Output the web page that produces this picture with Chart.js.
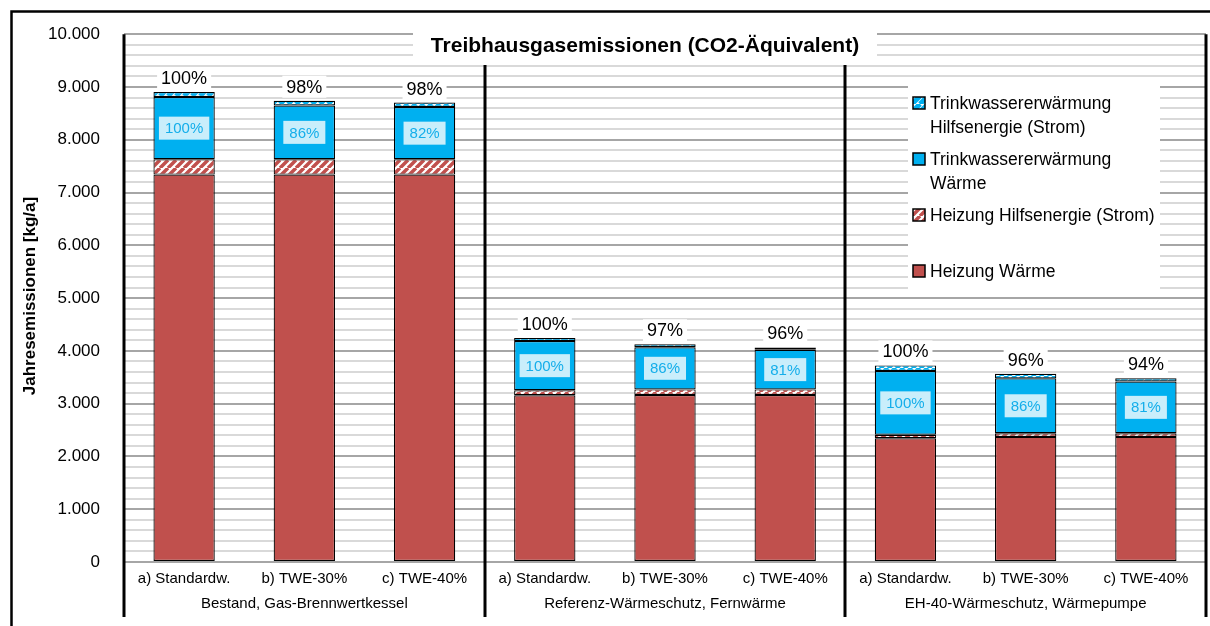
<!DOCTYPE html>
<html><head><meta charset="utf-8">
<script src="https://cdn.jsdelivr.net/npm/chart.js@4.4.0/dist/chart.umd.min.js"></script>
<style>html,body{margin:0;padding:0;background:#fff;overflow:hidden}#wrap{width:1210px;height:626px;position:relative}</style>
</head><body><div id="wrap"><canvas id="c" width="1210" height="626"></canvas></div>
<script>
// ---------- data ----------
const categories = ['a) Standardw.', 'b) TWE-30%', 'c) TWE-40%', 'a) Standardw.', 'b) TWE-30%', 'c) TWE-40%', 'a) Standardw.', 'b) TWE-30%', 'c) TWE-40%'];
const groups = ['Bestand, Gas-Brennwertkessel', 'Referenz-Wärmeschutz, Fernwärme', 'EH-40-Wärmeschutz, Wärmepumpe'];
const seriesNames = ['Heizung Wärme', 'Heizung Hilfsenergie (Strom)', 'Trinkwassererwärmung Wärme', 'Trinkwassererwärmung Hilfsenergie (Strom)'];
const heizungWaerme = [7340, 7340, 7340, 3160, 3165, 3165, 2345, 2370, 2370];
const heizungHilfsenergie = [290, 290, 290, 95, 105, 105, 65, 70, 70];
const tweWaerme = [1180, 1020, 990, 930, 800, 750, 1210, 1040, 980];
const tweHilfsenergie = [95, 90, 85, 60, 55, 45, 105, 85, 60];
const totalPercent = ['100%', '98%', '98%', '100%', '97%', '96%', '100%', '96%', '94%'];
const twePercent = ['100%', '86%', '82%', '100%', '86%', '81%', '100%', '86%', '81%'];
const yMin = 0, yMax = 10000, yMinorStep = 200, yMajorStep = 1000;
const chartTitle = 'Treibhausgasemissionen (CO2-Äquivalent)';
const yAxisTitle = 'Jahresemissionen [kg/a]';

// ---------- styles ----------
const FONT = "'Liberation Sans', Arial, sans-serif";
const RED = '#c0504d', BLUE = '#00b0f0';
const canvas = document.getElementById('c');
const ctx = canvas.getContext('2d');

function stripes(color, bg, lw) {
  const p = document.createElement('canvas');
  p.width = 8; p.height = 8;
  const g = p.getContext('2d');
  g.fillStyle = bg; g.fillRect(0, 0, 8, 8);
  g.strokeStyle = color; g.lineWidth = lw;
  g.beginPath();
  for (let k = -1; k <= 1; k++) { g.moveTo(k * 8, 8); g.lineTo(k * 8 + 8, 0); }
  g.stroke();
  return ctx.createPattern(p, 'repeat');
}
const redHatch = stripes(RED, '#ffffff', 3.5);
const blueHatch = stripes(BLUE, '#ffffff', 5);
const fills = [RED, redHatch, BLUE, blueHatch];
const seriesData = [heizungWaerme, heizungHilfsenergie, tweWaerme, tweHilfsenergie];

function fmt(v) { return String(v).replace(/\B(?=(\d{3})+(?!\d))/g, '.'); }

function wrap(c, text, maxW) {
  const words = text.split(' '); const lines = []; let cur = '';
  for (const w of words) {
    const t = cur ? cur + ' ' + w : w;
    if (c.measureText(t).width > maxW && cur) { lines.push(cur); cur = w; } else cur = t;
  }
  if (cur) lines.push(cur);
  return lines;
}

const decor = {
  id: 'decor',
  afterDatasetsDraw(chart) {
    const c = chart.ctx, a = chart.chartArea, xs = chart.scales.x;
    const catW = (a.right - a.left) / categories.length;
    c.save();
    // inner TWE percentage labels
    const mBlue = chart.getDatasetMeta(2);
    c.font = '15px ' + FONT; c.textAlign = 'center'; c.textBaseline = 'middle';
    mBlue.data.forEach((el, i) => {
      const cy = (el.y + el.base) / 2, t = twePercent[i];
      const w = c.measureText(t).width + 12;
      c.fillStyle = '#c9eefb'; c.fillRect(el.x - w / 2, cy - 11.5, w, 23);
      c.fillStyle = '#14aeea'; c.fillText(t, el.x, cy + 1);
    });
    // total percentage labels
    const mTop = chart.getDatasetMeta(3);
    c.font = '18px ' + FONT;
    mTop.data.forEach((el, i) => {
      const cy = el.y - 14, t = totalPercent[i];
      const w = c.measureText(t).width + 8;
      c.fillStyle = '#fff'; c.fillRect(el.x - w / 2, cy - 11, w, 22);
      c.fillStyle = '#000'; c.fillText(t, el.x, cy + 1);
    });
    // group separators
    c.strokeStyle = '#000'; c.lineWidth = 3;
    for (let k = 0; k <= categories.length; k += 3) {
      const x = Math.round(a.left + k * catW);
      c.beginPath(); c.moveTo(x, a.top); c.lineTo(x, 617); c.stroke();
    }
    // group labels
    c.fillStyle = '#000'; c.font = '15px ' + FONT;
    groups.forEach((g, i) => {
      const x = (xs.getPixelForValue(i * 3) + xs.getPixelForValue(i * 3 + 2)) / 2;
      c.fillText(g, x, 604);
    });
    // title
    c.fillStyle = '#fff'; c.fillRect(413, 28, 464, 37);
    c.fillStyle = '#000'; c.font = 'bold 21px ' + FONT;
    c.fillText(chartTitle, 645, 46);
    // y axis title
    c.save(); c.translate(30, 296); c.rotate(-Math.PI / 2);
    c.font = 'bold 17px ' + FONT; c.fillText(yAxisTitle, 0, 0); c.restore();
    // legend
    c.fillStyle = '#fff'; c.fillRect(908, 86, 252, 206);
    c.font = '17.5px ' + FONT; c.textAlign = 'left';
    for (let j = 0; j < 4; j++) {
      const di = 3 - j, y0 = 103 + j * 56;
      c.fillStyle = fills[di]; c.fillRect(913, y0 - 6, 12, 12);
      c.strokeStyle = '#000'; c.lineWidth = 1.5; c.strokeRect(913, y0 - 6, 12, 12);
      c.fillStyle = '#000';
      wrap(c, chart.data.datasets[di].label, 232).forEach((ln, k) => c.fillText(ln, 930, y0 + 1 + k * 24));
    }
    // outer frame
    c.strokeStyle = '#000'; c.lineWidth = 2.5; c.strokeRect(11.5, 11.5, 1300, 700);
    c.restore();
  }
};

new Chart(canvas, {
  type: 'bar',
  data: {
    labels: categories,
    datasets: seriesData.map((d, i) => ({
      label: seriesNames[i], data: d, backgroundColor: fills[i],
      borderColor: '#000', borderWidth: 1.2, borderSkipped: false,
      categoryPercentage: 0.51, barPercentage: 1
    }))
  },
  options: {
    responsive: false, animation: false, devicePixelRatio: 1,
    layout: { padding: { top: 31, right: 4, left: 0, bottom: 0 } },
    plugins: { legend: { display: false }, tooltip: { enabled: false }, title: { display: false } },
    scales: {
      x: {
        stacked: true,
        grid: { display: false, drawTicks: false }, border: { display: false },
        ticks: { color: '#000', font: { size: 15, family: FONT }, padding: 8, maxRotation: 0, autoSkip: false },
        afterFit(s) { s.height = 64; }
      },
      y: {
        stacked: true, min: yMin, max: yMax,
        grid: { drawTicks: false, lineWidth: 2, color: (cx) => (cx.tick && cx.tick.value % yMajorStep === 0) ? '#a6a6a6' : '#d9d9d9' },
        border: { display: false },
        ticks: { stepSize: yMinorStep, autoSkip: false, color: '#000', font: { size: 17, family: FONT }, padding: 24,
          callback: (v) => v % yMajorStep === 0 ? fmt(v) : '' },
        afterFit(s) { s.width = 124; }
      }
    }
  },
  plugins: [decor]
});
</script></body></html>
